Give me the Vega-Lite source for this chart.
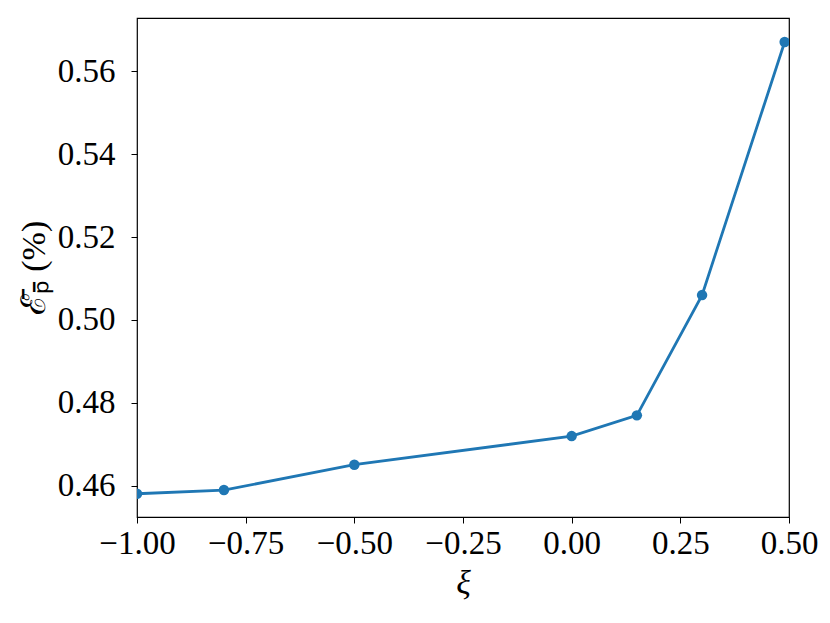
{
  "$schema": "https://vega.github.io/schema/vega-lite/v6.json",
  "width": 652,
  "height": 499,
  "autosize": {"type": "none"},
  "padding": {"left": 137, "top": 18, "right": 41, "bottom": 106},
  "background": "white",
  "config": {
    "view": {"stroke": "black", "strokeWidth": 1.2},
    "axis": {
      "grid": false,
      "domain": false,
      "tickColor": "black",
      "tickSize": 6,
      "tickWidth": 1,
      "labelFont": "Liberation Serif",
      "labelFontSize": 33,
      "labelColor": "black",
      "labelOverlap": false,
      "labelFlush": false,
      "labelBound": false,
      "titleFont": "Liberation Serif",
      "titleColor": "black",
      "titleFontWeight": "normal"
    }
  },
  "data": {
    "values": [
      {"xi": -1.0, "e": 0.4581},
      {"xi": -0.8, "e": 0.459},
      {"xi": -0.5, "e": 0.4651},
      {"xi": 0.0, "e": 0.472},
      {"xi": 0.15, "e": 0.477},
      {"xi": 0.3, "e": 0.506},
      {"xi": 0.49, "e": 0.567}
    ]
  },
  "encoding": {
    "x": {
      "field": "xi",
      "type": "quantitative",
      "scale": {"domain": [-1.0, 0.5], "nice": false, "zero": false},
      "axis": {
        "values": [-1.0, -0.75, -0.5, -0.25, 0.0, 0.25, 0.5],
        "format": ".2f",
        "title": "ξ",
        "titleFontSize": 34,
        "titleFontStyle": "italic",
        "labelPadding": 4,
        "titlePadding": 6
      }
    },
    "y": {
      "field": "e",
      "type": "quantitative",
      "scale": {"domain": [0.4525, 0.5728], "nice": false, "zero": false},
      "axis": {
        "values": [0.46, 0.48, 0.5, 0.52, 0.54, 0.56],
        "format": ".2f",
        "title": "ℰ̄ₚ̄ (%)",
        "titleFontSize": 34,
        "labelPadding": 16,
        "titlePadding": 6
      }
    }
  },
  "layer": [
    {"mark": {"type": "line", "color": "#1f77b4", "strokeWidth": 2.8, "clip": true}},
    {"mark": {"type": "point", "filled": true, "color": "#1f77b4", "opacity": 1, "size": 110, "clip": true}}
  ]
}
